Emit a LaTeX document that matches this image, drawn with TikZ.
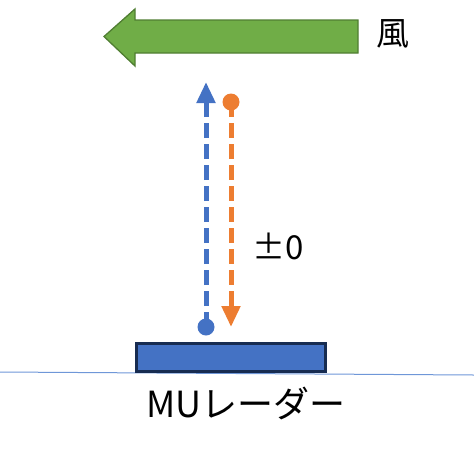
\documentclass[tikz,border=0pt]{standalone}
\usepackage{fontspec}
\setmainfont{Noto Sans CJK JP}
\usetikzlibrary{arrows.meta}
\definecolor{wgreen}{HTML}{70AD47}
\definecolor{wgreenedge}{HTML}{507E32}
\definecolor{mblue}{HTML}{4472C4}
\definecolor{mnavy}{HTML}{172C51}
\definecolor{morange}{HTML}{ED7D31}
\definecolor{glineblue}{HTML}{6F97D8}
\begin{document}
\begin{tikzpicture}[x=1pt,y=-1pt,
  lbl/.style={inner sep=0pt, font=\fontsize{33}{38}\selectfont},
  dot/.style={circle, inner sep=0pt, minimum size=17pt},
  wind/.style={line width=5pt, dash pattern=on 15pt off 6pt, -{Triangle[width=18pt,length=21pt]}}]
\useasboundingbox (0,0) rectangle (474,451);
% ground line
\coordinate (gl) at (0,372);
\coordinate (gr) at (474,375);
\draw[glineblue, line width=1pt] (gl) -- (gr);
% radar
\node[draw=mnavy, fill=mblue, line width=2.2pt, minimum width=189pt, minimum height=28pt, inner sep=0pt] (radar) at (231,357.5) {};
\node[lbl, font=\fontsize{36}{40}\selectfont] (mu) at (246,403) {MUレーダー};
% wind arrow
\draw[draw=wgreenedge, fill=wgreen, line width=1.3pt]
  (358,20) -- (135,20) -- (135,9) -- (104,36.5) -- (135,66) -- (135,53) -- (358,53) -- cycle;
\node[lbl] (kaze) at (393,34) {風};
% blue beam
\node[dot, fill=mblue] (bdot) at (206,327) {};
\coordinate (btip) at (206,82);
\draw[wind, mblue] (bdot.center) -- (btip);
% orange beam
\node[dot, fill=morange] (odot) at (231,102) {};
\coordinate (otip) at (231,327);
\draw[wind, morange] (odot.center) -- (otip);
\node[lbl] (pm) at (278,246) {±0};
\end{tikzpicture}
\end{document}
